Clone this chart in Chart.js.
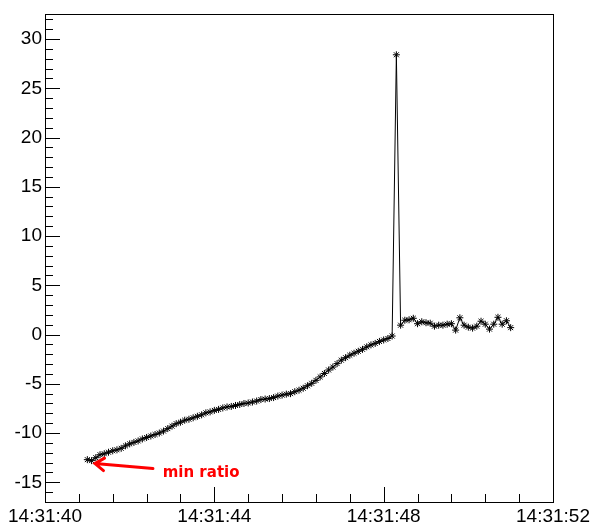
<!DOCTYPE html>
<html>
<head>
<meta charset="utf-8">
<script src="https://cdn.jsdelivr.net/npm/chart.js@4"></script>
<style>
  body { margin: 0; background: #fff; }
  canvas { display: block; }
</style>
</head>
<body>
<canvas id="ratio" width="595" height="524"></canvas>
<script>
// seconds after 14:31:00
const times = [
  41.0, 41.1, 41.2, 41.3, 41.4, 41.5, 41.6, 41.7, 41.8, 41.9,
  42.0, 42.1, 42.2, 42.3, 42.4, 42.5, 42.6, 42.7, 42.8, 42.9,
  43.0, 43.1, 43.2, 43.3, 43.4, 43.5, 43.6, 43.7, 43.8, 43.9,
  44.0, 44.1, 44.2, 44.3, 44.4, 44.5, 44.6, 44.7, 44.8, 44.9,
  45.0, 45.1, 45.2, 45.3, 45.4, 45.5, 45.6, 45.7, 45.8, 45.9,
  46.0, 46.1, 46.2, 46.3, 46.4, 46.5, 46.6, 46.7, 46.8, 46.9,
  47.0, 47.1, 47.2, 47.3, 47.4, 47.5, 47.6, 47.7, 47.8, 47.9,
  48.0, 48.1, 48.2, 48.3, 48.4, 48.5, 48.6, 48.7, 48.8, 48.9,
  49.0, 49.1, 49.2, 49.3, 49.4, 49.5, 49.6, 49.7, 49.8, 49.9,
  50.0, 50.1, 50.2, 50.3, 50.4, 50.5, 50.6, 50.7, 50.8, 50.9,
  51.0
];

const ratio = [
  -12.7, -12.8, -12.5, -12.2, -12.1, -11.95, -11.8, -11.7, -11.55, -11.3,
  -11.1, -10.95, -10.8, -10.6, -10.45, -10.3, -10.15, -10.0, -9.8, -9.55,
  -9.3, -9.05, -8.9, -8.7, -8.6, -8.45, -8.3, -8.15, -7.95, -7.85,
  -7.7, -7.6, -7.45, -7.35, -7.3, -7.2, -7.1, -7.0, -6.95, -6.85,
  -6.75, -6.6, -6.55, -6.5, -6.4, -6.25, -6.15, -6.05, -6.0, -5.8,
  -5.65, -5.45, -5.2, -4.95, -4.65, -4.3, -3.95, -3.6, -3.3, -2.95,
  -2.6, -2.35, -2.1, -1.9, -1.7, -1.5, -1.25, -1.05, -0.9, -0.7,
  -0.55, -0.4, -0.15, 28.4, 0.95, 1.45, 1.5, 1.65, 1.1, 1.3,
  1.2, 1.15, 0.85, 0.95, 0.95, 1.05, 1.1, 0.45, 1.7, 0.95,
  0.75, 0.65, 0.85, 1.35, 1.05, 0.55, 1.05, 1.75, 1.05, 1.4,
  0.7
];

const xTickSec = [40, 44, 48, 52];
const xTickLabels = ['14:31:40', '14:31:44', '14:31:48', '14:31:52'];
const yTicks = [-15, -10, -5, 0, 5, 10, 15, 20, 25, 30];

// arrow pointing at the minimum (in data units)
const noteText = 'min ratio';
const noteTip = [41.18, -13.1];
const noteTail = [42.55, -13.6];
const noteLabel = [42.78, -14.1];

const FONT = '"Liberation Sans", Arial, Helvetica, sans-serif';

// ROOT style frame with inward ticks
const frameTicks = {
  id: 'frameTicks',
  afterDraw(chart) {
    const { ctx, chartArea: a, scales: { x, y } } = chart;
    ctx.save();
    ctx.strokeStyle = '#000';
    ctx.lineWidth = 1;
    ctx.strokeRect(Math.round(a.left) + 0.5, Math.round(a.top) + 0.5,
      Math.round(a.right - a.left), Math.round(a.bottom - a.top));
    ctx.beginPath();
    for (let v = -17; v <= 32.5; v += 1) {
      const py = Math.round(y.getPixelForValue(v)) + 0.5;
      const len = yTicks.includes(v) ? 15 : 8;
      ctx.moveTo(a.left, py);
      ctx.lineTo(a.left + len, py);
    }
    for (let i = 0; i <= 15; i++) {
      const v = 40 + i * 0.8;
      const px = Math.round(x.getPixelForValue(v)) + 0.5;
      const len = i % 5 === 0 ? 15 : 8;
      ctx.moveTo(px, a.bottom);
      ctx.lineTo(px, a.bottom - len);
    }
    ctx.stroke();

    // annotation
    const tx = x.getPixelForValue(noteTip[0]), ty = y.getPixelForValue(noteTip[1]);
    const sx = x.getPixelForValue(noteTail[0]), sy = y.getPixelForValue(noteTail[1]);
    const ang = Math.atan2(ty - sy, tx - sx);
    ctx.strokeStyle = '#ff0000';
    ctx.lineWidth = 3;
    ctx.lineCap = 'round';
    ctx.beginPath();
    ctx.moveTo(sx, sy);
    ctx.lineTo(tx, ty);
    ctx.moveTo(tx - 11 * Math.cos(ang - 0.6), ty - 11 * Math.sin(ang - 0.6));
    ctx.lineTo(tx, ty);
    ctx.lineTo(tx - 11 * Math.cos(ang + 0.6), ty - 11 * Math.sin(ang + 0.6));
    ctx.stroke();
    ctx.fillStyle = '#ff0000';
    ctx.font = 'bold 15px "DejaVu Sans", sans-serif';
    ctx.textBaseline = 'middle';
    ctx.fillText(noteText, x.getPixelForValue(noteLabel[0]), y.getPixelForValue(noteLabel[1]));
    ctx.restore();
  }
};

new Chart(document.getElementById('ratio'), {
  type: 'line',
  data: {
    datasets: [{
      data: times.map((t, i) => ({ x: t, y: ratio[i] })),
      borderColor: '#000',
      borderWidth: 1,
      pointStyle: 'star',
      pointRadius: 3.5,
      pointBorderColor: '#000',
      pointBorderWidth: 1,
      tension: 0,
      fill: false
    }]
  },
  options: {
    responsive: false,
    animation: false,
    layout: { padding: { top: 7, right: 42, left: 0, bottom: 0 } },
    plugins: { legend: { display: false }, tooltip: { enabled: false } },
    scales: {
      x: {
        type: 'linear',
        min: 40,
        max: 52,
        afterBuildTicks: s => { s.ticks = xTickSec.map(v => ({ value: v })); },
        afterFit: s => { s.height = 22; },
        grid: { display: false, drawTicks: false, tickLength: 0 },
        border: { display: false },
        ticks: {
          autoSkip: false,
          maxRotation: 0,
          padding: 3,
          color: '#000',
          font: { family: FONT, size: 19 },
          callback: v => xTickLabels[xTickSec.indexOf(v)] || ''
        }
      },
      y: {
        min: -17,
        max: 32.5,
        afterBuildTicks: s => { s.ticks = yTicks.map(v => ({ value: v })); },
        afterFit: s => { s.width = 45; },
        grid: { display: false, drawTicks: false, tickLength: 0 },
        border: { display: false },
        ticks: {
          padding: 3,
          color: '#000',
          font: { family: FONT, size: 19 }
        }
      }
    }
  },
  plugins: [frameTicks]
});
</script>
</body>
</html>
